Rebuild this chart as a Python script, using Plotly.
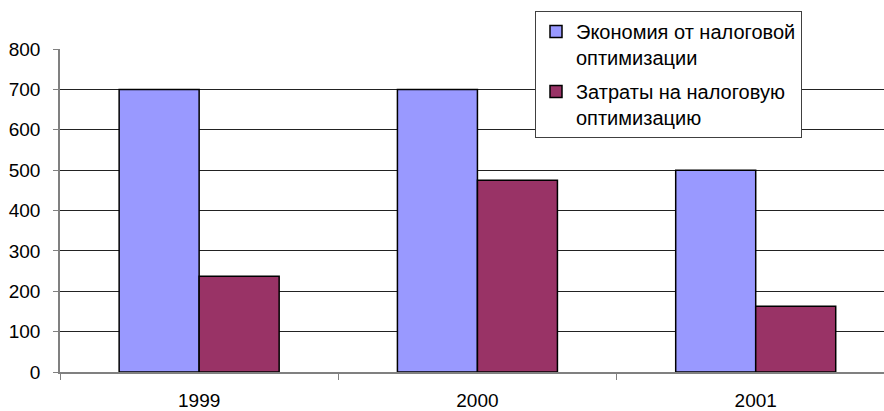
import plotly.graph_objects as go

# Годы и значения показателей
years = ["1999", "2000", "2001"]
savings = [700, 700, 500]
costs = [237, 475, 163]

series_names = ["Экономия от налоговой<br>оптимизации", "Затраты на налоговую<br>оптимизацию"]
series_colors = ["#9999FF", "#993366"]

FONT = "Liberation Sans, Arial, sans-serif"

fig = go.Figure()
for name, vals, col, grp in zip(series_names, [savings, costs], series_colors, ["a", "b"]):
    fig.add_trace(go.Bar(
        x=years, y=vals, name=name, legendgroup=grp,
        marker=dict(color=col, line=dict(color="#000000", width=1.5)),
    ))

fig.update_layout(
    width=884, height=411,
    margin=dict(l=60, r=0, t=49, b=39),
    paper_bgcolor="white", plot_bgcolor="white",
    barmode="group", bargap=0.425, bargroupgap=0,
    font=dict(family=FONT, size=19, color="#000000"),
    showlegend=True,
    legend=dict(
        x=(535 - 60) / 824, xanchor="left",
        y=(372 - 11) / 323, yanchor="top",
        bgcolor="white", bordercolor="#404040", borderwidth=1,
        font=dict(family=FONT, size=20, color="#000000"),
        valign="top", tracegroupgap=5,
    ),
)

fig.update_xaxes(
    type="category", range=[-0.5, 2.461],
    showline=True, linecolor="#808080", linewidth=1.5,
    ticks="outside", tickson="boundaries", ticklen=6, tickcolor="#808080",
    showgrid=False, tickfont=dict(size=19), ticklabelstandoff=10,
)
fig.update_yaxes(
    range=[0, 800], dtick=100,
    showline=True, linecolor="#808080", linewidth=1.5,
    ticks="outside", ticklen=5, tickcolor="#808080",
    showgrid=True, gridcolor="#222222", gridwidth=1,
    zeroline=False, tickfont=dict(size=19), ticklabelstandoff=9,
)

fig.write_html("out.html")
